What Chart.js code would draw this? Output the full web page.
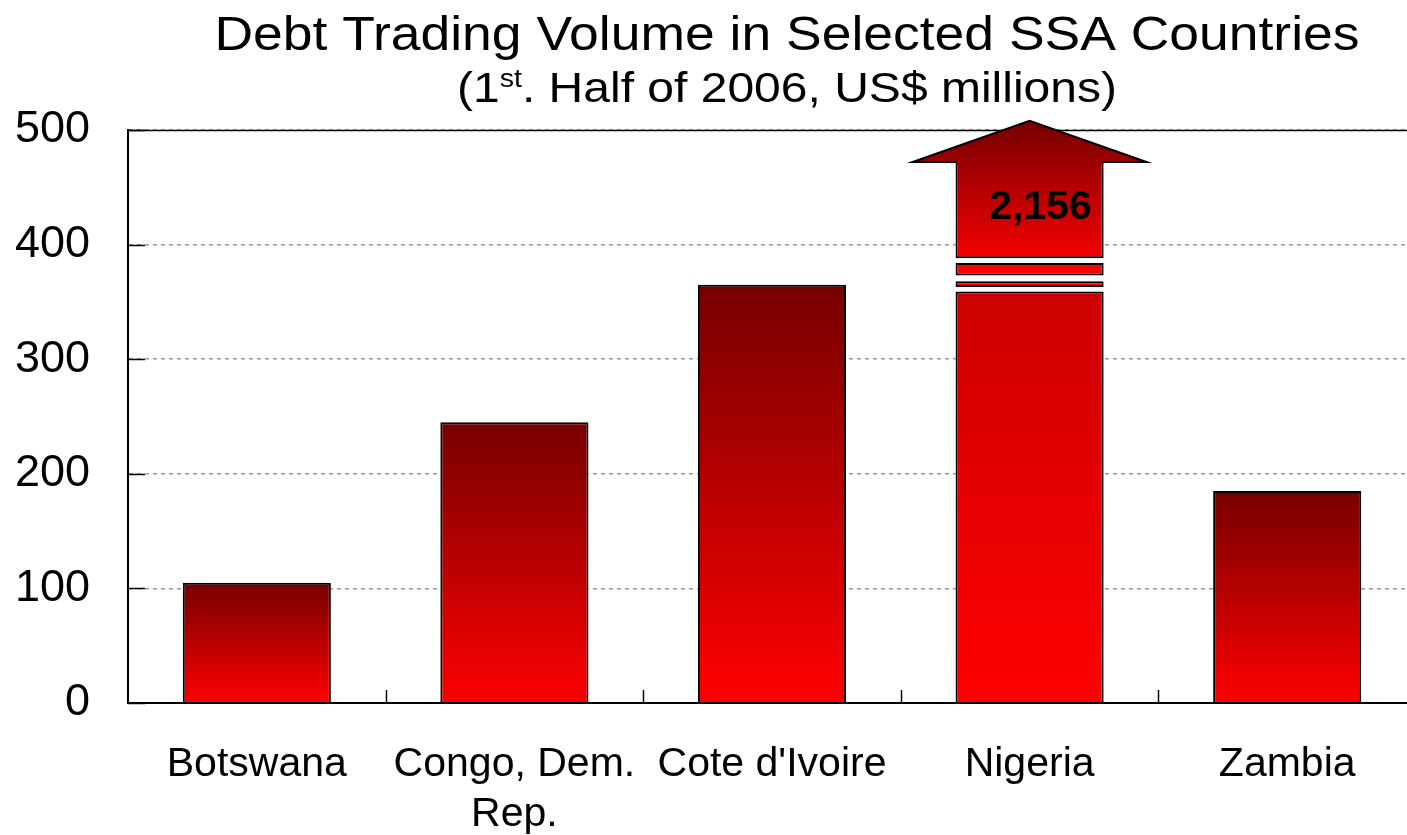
<!DOCTYPE html>
<html>
<head>
<meta charset="utf-8">
<script src="https://cdn.jsdelivr.net/npm/chart.js@4.4.1/dist/chart.umd.min.js"></script>
<style>
  html, body { margin: 0; padding: 0; background: #fff; overflow: hidden; }
  #wrap { width: 1407px; height: 835px; position: relative; overflow: hidden; }
  #c { display: block; }
</style>
</head>
<body>
<div id="wrap"><canvas id="c" width="1416" height="835"></canvas></div>
<script>
// ---- data ----
const titleText = 'Debt Trading Volume in Selected SSA Countries';
const subtitlePre = '(1';
const subtitleSup = 'st';
const subtitlePost = '. Half of 2006, US$ millions)';
const categories = ['Botswana', ['Congo, Dem.', 'Rep.'], "Cote d'Ivoire", 'Nigeria', 'Zambia'];
const volumes = [105, 245, 365, 2156, 185];
const yTicks = [0, 100, 200, 300, 400, 500];
const axisMax = 500;
// Nigeria's bar exceeds the axis: shown as a broken bar (axis-value ranges) with an arrow
const brokenIndex = 3;
const breakSegments = [[0, 359], [363, 368], [373, 384], [388, 472]];
const arrowTipValue = 508;
const labelValue = 432;

const FONT = '"Liberation Sans", Arial, sans-serif';

// ---- helpers ----
function gradientFor(chart, topVal, botVal, topColor, botColor) {
  const y = chart.scales.y;
  if (!y || !chart.chartArea) return botColor;
  const yt = y.getPixelForValue(topVal), yb = y.getPixelForValue(botVal);
  if (!isFinite(yt) || !isFinite(yb) || yt === yb) return botColor;
  const g = chart.ctx.createLinearGradient(0, yt, 0, yb);
  g.addColorStop(0, topColor);
  g.addColorStop(1, botColor);
  return g;
}

const mainData = volumes.map(v => v > axisMax ? null : v);
const segData = breakSegments.map(seg => categories.map((_, i) => i === brokenIndex ? seg : null));

const datasets = [{
  data: mainData,
  backgroundColor: (ctx) => {
    const v = ctx.raw;
    if (v == null) return '#ff0000';
    return gradientFor(ctx.chart, v, 0, '#760000', '#ff0000');
  },
  borderColor: '#000',
  borderWidth: 2,
  borderSkipped: 'bottom'
}];
const segStyles = [
  { top: '#cc0000', bot: '#ff0000', skip: 'bottom' },
  { top: '#ff0000', bot: '#ff0000', skip: false },
  { top: '#ff0000', bot: '#ff0000', skip: false },
  { top: '#760000', bot: '#f40000', skip: 'top', fromTip: true }
];
segData.forEach((d, k) => {
  const st = segStyles[k];
  datasets.push({
    data: d,
    backgroundColor: (ctx) => {
      const r = ctx.raw;
      if (!r) return st.bot;
      const topV = st.fromTip ? arrowTipValue : r[1];
      return gradientFor(ctx.chart, topV, r[0], st.top, st.bot);
    },
    borderColor: '#000',
    borderWidth: 2,
    borderSkipped: st.skip
  });
});

function drawScaledText(ctx, text, cx, y, font, sx) {
  ctx.save();
  ctx.font = font;
  ctx.textAlign = 'center';
  ctx.translate(cx, y);
  ctx.scale(sx, 1);
  ctx.fillText(text, 0, 0);
  ctx.restore();
}

const decorPlugin = {
  id: 'decor',
  beforeDatasetsDraw(chart) {
    const { ctx, chartArea: a } = chart;
    ctx.save();
    ctx.strokeStyle = '#000';
    ctx.lineWidth = 1.5;
    ctx.beginPath();
    ctx.moveTo(a.left, a.top + 0.5);
    ctx.lineTo(a.right, a.top + 0.5);
    ctx.stroke();
    ctx.restore();
  },
  afterDatasetsDraw(chart) {
    const { ctx, chartArea: a, scales } = chart;
    const y = scales.y;
    ctx.save();
    // inward tick marks
    ctx.strokeStyle = '#000';
    ctx.lineWidth = 1.5;
    yTicks.forEach(t => {
      const py = Math.round(y.getPixelForValue(t)) + 0.5;
      ctx.beginPath(); ctx.moveTo(a.left, py); ctx.lineTo(a.left + 17, py); ctx.stroke();
    });
    const step = (a.right - a.left) / categories.length;
    for (let i = 1; i < categories.length; i++) {
      const px = Math.round(a.left + step * i) + 0.5;
      ctx.beginPath(); ctx.moveTo(px, a.bottom); ctx.lineTo(px, a.bottom - 13); ctx.stroke();
    }
    // arrow head on the broken bar
    const meta = chart.getDatasetMeta(datasets.length - 1);
    const el = meta.data[brokenIndex];
    if (el) {
      const cx = el.x, hw = el.width / 2;
      const headHw = hw * 1.58;
      const ys = y.getPixelForValue(breakSegments[breakSegments.length - 1][1]);
      const yt = y.getPixelForValue(arrowTipValue);
      const yb = y.getPixelForValue(breakSegments[breakSegments.length - 1][0]);
      const g = ctx.createLinearGradient(0, yt, 0, yb);
      g.addColorStop(0, '#760000');
      g.addColorStop(1, '#f40000');
      ctx.fillStyle = g;
      ctx.beginPath();
      ctx.moveTo(cx - headHw, ys);
      ctx.lineTo(cx, yt);
      ctx.lineTo(cx + headHw, ys);
      ctx.lineTo(cx + hw - 1, ys);
      ctx.lineTo(cx + hw - 1, ys + 3);
      ctx.lineTo(cx - hw + 1, ys + 3);
      ctx.lineTo(cx - hw + 1, ys);
      ctx.closePath();
      ctx.fill();
      ctx.strokeStyle = '#000';
      ctx.lineWidth = 2;
      ctx.lineJoin = 'miter';
      ctx.beginPath();
      ctx.moveTo(cx - hw + 1, ys);
      ctx.lineTo(cx - headHw, ys);
      ctx.lineTo(cx, yt);
      ctx.lineTo(cx + headHw, ys);
      ctx.lineTo(cx + hw - 1, ys);
      ctx.stroke();
      // value label
      ctx.fillStyle = '#000';
      ctx.font = 'bold 41px ' + FONT;
      ctx.textAlign = 'center';
      ctx.textBaseline = 'middle';
      ctx.fillText(volumes[brokenIndex].toLocaleString('en-US'), cx + 11, y.getPixelForValue(labelValue));
    }
    ctx.restore();
  },
  afterDraw(chart) {
    const { ctx } = chart;
    ctx.save();
    ctx.fillStyle = '#000';
    ctx.textBaseline = 'alphabetic';
    const cx = 787;
    // main title
    const tFont = '48px ' + FONT;
    ctx.font = tFont;
    const tw = ctx.measureText(titleText).width;
    drawScaledText(ctx, titleText, cx, 50, tFont, 1145 / tw);
    // subtitle with superscript
    const big = '42px ' + FONT;
    const small = '25px ' + FONT;
    ctx.font = big;
    const w1 = ctx.measureText(subtitlePre).width;
    const w3 = ctx.measureText(subtitlePost).width;
    ctx.font = small;
    const w2 = ctx.measureText(subtitleSup).width;
    const total = w1 + w2 + w3;
    const sx = 660 / total;
    ctx.save();
    ctx.translate(cx - total * sx / 2, 102);
    ctx.scale(sx, 1);
    ctx.textAlign = 'left';
    ctx.font = big;
    ctx.fillText(subtitlePre, 0, 0);
    ctx.font = small;
    ctx.fillText(subtitleSup, w1, -15);
    ctx.font = big;
    ctx.fillText(subtitlePost, w1 + w2, 0);
    ctx.restore();
    ctx.restore();
  }
};

new Chart(document.getElementById('c'), {
  type: 'bar',
  data: { labels: categories, datasets },
  options: {
    responsive: false,
    animation: false,
    events: [],
    layout: { padding: { left: 0, right: 0, top: 130, bottom: 0 } },
    datasets: { bar: { grouped: false, categoryPercentage: 1, barPercentage: 0.575 } },
    plugins: { legend: { display: false }, tooltip: { enabled: false }, title: { display: false } },
    scales: {
      x: {
        offset: true,
        grid: { display: false, drawTicks: false },
        border: { display: true, color: '#000', width: 2 },
        ticks: {
          color: '#000',
          padding: 37,
          maxRotation: 0,
          autoSkip: false,
          font: { family: FONT, size: 41, lineHeight: '50px' }
        },
        afterFit(s) { s.height = 132; }
      },
      y: {
        min: 0,
        max: axisMax,
        afterBuildTicks(s) { s.ticks = yTicks.map(v => ({ value: v })); },
        grid: { color: '#9a9a9a', lineWidth: 1.5, drawTicks: false },
        border: { display: true, color: '#000', width: 2, dash: [4, 4] },
        ticks: {
          color: '#000',
          padding: 38,
          font: { family: FONT, size: 45 }
        },
        afterFit(s) { s.width = 128; }
      }
    }
  },
  plugins: [decorPlugin]
});
</script>
</body>
</html>
